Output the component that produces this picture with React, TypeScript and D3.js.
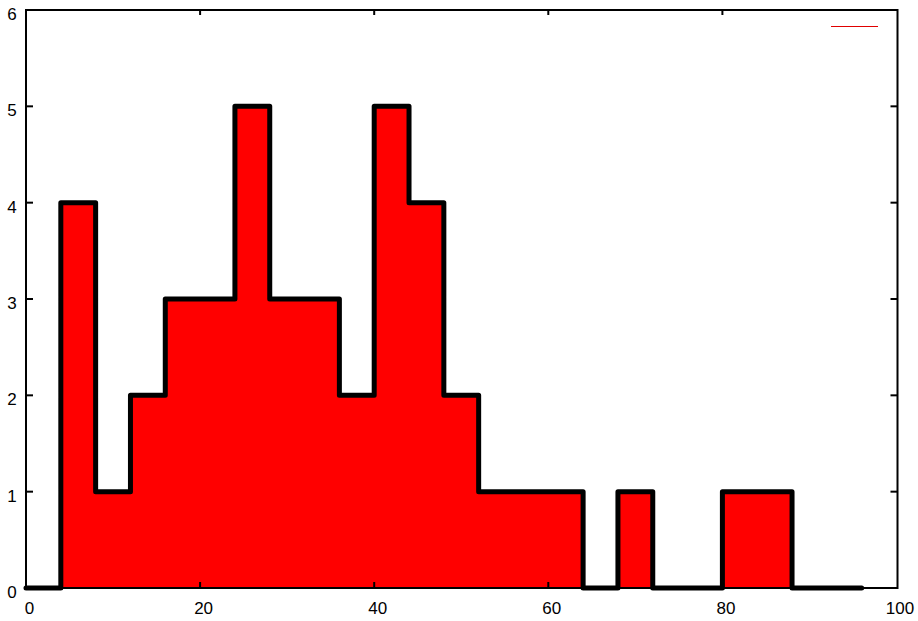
import React from "react";
import * as d3 from "d3";

const binStarts = [0, 4, 8, 12, 16, 20, 24, 28, 32, 36, 40, 44, 48, 52, 56, 60, 64, 68, 72, 76, 80, 84, 88, 92, 96];
const counts = [0, 4, 1, 2, 3, 3, 5, 3, 3, 2, 5, 4, 2, 1, 1, 1, 0, 1, 0, 0, 1, 1, 0, 0, 0];
const xTicks = [0, 20, 40, 60, 80, 100];
const yTicks = [0, 1, 2, 3, 4, 5, 6];

const W = 918;
const H = 621;
const left = 26;
const right = 896.5;
const top = 10;
const bottom = 588;

export default function App() {
  const x = d3.scaleLinear().domain([0, 100]).range([left, right]);
  const y = d3.scaleLinear().domain([0, 6]).range([bottom, top]);
  const pts: [number, number][] = binStarts.map((b, i) => [b, counts[i]]);

  const area = d3
    .area<[number, number]>()
    .x((d) => x(d[0]))
    .y0(y(0))
    .y1((d) => y(d[1]))
    .curve(d3.curveStepAfter);
  const line = d3
    .line<[number, number]>()
    .x((d) => x(d[0]))
    .y((d) => y(d[1]))
    .curve(d3.curveStepAfter);

  const font = "'Liberation Sans', Arial, sans-serif";

  return (
    <svg
      width={W}
      height={H}
      style={{ position: "absolute", left: 0, top: 0, background: "#fff" }}
    >
      <rect x={0} y={0} width={W} height={H} fill="#fff" />
      <path d={area(pts) || ""} fill="#ff0000" />
      <rect
        x={left}
        y={top}
        width={right - left + 1}
        height={bottom - top}
        fill="none"
        stroke="#000"
        strokeWidth={2}
      />
      {yTicks.slice(1, -1).map((t) => (
        <g key={"yt" + t}>
          <line x1={left} x2={left + 7} y1={y(t)} y2={y(t)} stroke="#000" strokeWidth={2} />
          <line x1={right + 1} x2={right - 6} y1={y(t)} y2={y(t)} stroke="#000" strokeWidth={2} />
        </g>
      ))}
      {xTicks.slice(1, -1).map((t) => (
        <g key={"xt" + t}>
          <line x1={x(t)} x2={x(t)} y1={bottom} y2={bottom - 6} stroke="#000" strokeWidth={2} />
          <line x1={x(t)} x2={x(t)} y1={top} y2={top + 5} stroke="#000" strokeWidth={2} />
        </g>
      ))}
      <path
        d={line(pts.slice(0, -1).concat([[96, counts[counts.length - 2]]])) || ""}
        fill="none"
        stroke="#000"
        strokeWidth={5}
        strokeLinejoin="round"
        strokeLinecap="round"
      />
      {yTicks.map((t) => (
        <text
          key={"yl" + t}
          x={12}
          y={y(t) + 10}
          textAnchor="middle"
          fontFamily={font}
          fontSize={17}
          fill="#000"
        >
          {t}
        </text>
      ))}
      {xTicks.map((t) => (
        <text
          key={"xl" + t}
          x={x(t) + 3.5}
          y={614}
          textAnchor="middle"
          fontFamily={font}
          fontSize={17}
          fill="#000"
        >
          {t}
        </text>
      ))}
      <line x1={831} x2={878} y1={26.5} y2={26.5} stroke="#e00000" strokeWidth={1} />
    </svg>
  );
}
